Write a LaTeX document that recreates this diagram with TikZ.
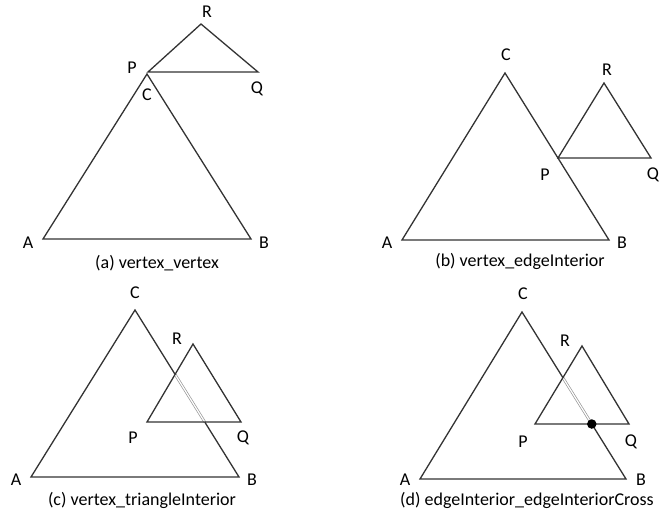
\documentclass[tikz,border=0pt]{standalone}
\usepackage{fontspec}
\setmainfont{Carlito}
\begin{document}
\begin{tikzpicture}[
    x=1pt, y=-1pt,
    edge/.style={draw=black!80, line width=1.3pt, line join=miter},
    hiddenedge/.style={draw=black!40, line width=0.7pt, double=white,
                       double distance=1.2pt},
    lbl/.style={font=\fontsize{18}{21}\selectfont, inner sep=0pt},
    caption/.style={font=\fontsize{18}{21}\selectfont, inner sep=0pt},
    crossdot/.style={circle, fill=black, inner sep=0pt, minimum size=9.5pt}
  ]
  \useasboundingbox (0,0) rectangle (670,513);

  % (a) vertex_vertex
  \coordinate (a1) at (43,239);
  \coordinate (b1) at (251,239);
  \coordinate (c1) at (147,74);
  \coordinate (p1) at (148,72);
  \coordinate (q1) at (258,72);
  \coordinate (r1) at (201,24);
  \draw[edge] (a1) -- (b1) -- (c1) -- cycle;
  \draw[edge] (p1) -- (q1) -- (r1) -- cycle;
  \node[lbl] (la1) at (28,243) {A};
  \node[lbl] (lb1) at (264,243) {B};
  \node[lbl] (lc1) at (147,95) {C};
  \node[lbl] (lp1) at (132,68) {P};
  \node[lbl] (lq1) at (257,89) {Q};
  \node[lbl] (lr1) at (207,12) {R};
  \node[caption] (capa) at (157,263) {(a) vertex\_vertex};

  % (b) vertex_edgeInterior
  \coordinate (a2) at (402,240);
  \coordinate (b2) at (609,240);
  \coordinate (c2) at (505,73);
  \coordinate (p2) at (558,158);
  \coordinate (q2) at (651,158);
  \coordinate (r2) at (604,83);
  \draw[edge] (a2) -- (b2) -- (c2) -- cycle;
  \draw[edge] (p2) -- (q2) -- (r2) -- cycle;
  \node[lbl] (la2) at (387,243) {A};
  \node[lbl] (lb2) at (622,243) {B};
  \node[lbl] (lc2) at (506,55) {C};
  \node[lbl] (lp2) at (545,175) {P};
  \node[lbl] (lq2) at (653,175) {Q};
  \node[lbl] (lr2) at (607,70) {R};
  \node[caption] (capb) at (520,261) {(b) vertex\_edgeInterior};

  % (c) vertex_triangleInterior
  \coordinate (a3) at (31,477);
  \coordinate (b3) at (239,477);
  \coordinate (c3) at (135,310);
  \coordinate (p3) at (147,422);
  \coordinate (q3) at (241,422);
  \coordinate (r3) at (193,344);
  \coordinate (s3) at (intersection of c3--b3 and p3--r3);
  \coordinate (t3) at (intersection of c3--b3 and p3--q3);
  \draw[edge] (a3) -- (b3) -- (c3) -- cycle;
  \draw[hiddenedge] (s3) -- (t3);
  \draw[edge] (p3) -- (q3) -- (r3) -- cycle;
  \node[lbl] (la3) at (16,480) {A};
  \node[lbl] (lb3) at (252,480) {B};
  \node[lbl] (lc3) at (135,293) {C};
  \node[lbl] (lp3) at (133,438) {P};
  \node[lbl] (lq3) at (243,438) {Q};
  \node[lbl] (lr3) at (177,339) {R};
  \node[caption] (capc) at (142,500) {(c) vertex\_triangleInterior};

  % (d) edgeInterior_edgeInteriorCross
  \coordinate (a4) at (420,479);
  \coordinate (b4) at (626,479);
  \coordinate (c4) at (522,312);
  \coordinate (p4) at (535,424);
  \coordinate (q4) at (629,424);
  \coordinate (r4) at (582,346);
  \coordinate (s4) at (intersection of c4--b4 and p4--r4);
  \coordinate (x4) at (intersection of c4--b4 and p4--q4);
  \draw[edge] (a4) -- (b4) -- (c4) -- cycle;
  \draw[hiddenedge] (s4) -- (x4);
  \draw[edge] (p4) -- (q4) -- (r4) -- cycle;
  \node[crossdot] (dot4) at (x4) {};
  \node[lbl] (la4) at (405,480) {A};
  \node[lbl] (lb4) at (641,480) {B};
  \node[lbl] (lc4) at (523,294) {C};
  \node[lbl] (lp4) at (523,442) {P};
  \node[lbl] (lq4) at (631,442) {Q};
  \node[lbl] (lr4) at (565,341) {R};
  \node[caption] (capd) at (527,500) {(d) edgeInterior\_edgeInteriorCross};
\end{tikzpicture}
\end{document}
